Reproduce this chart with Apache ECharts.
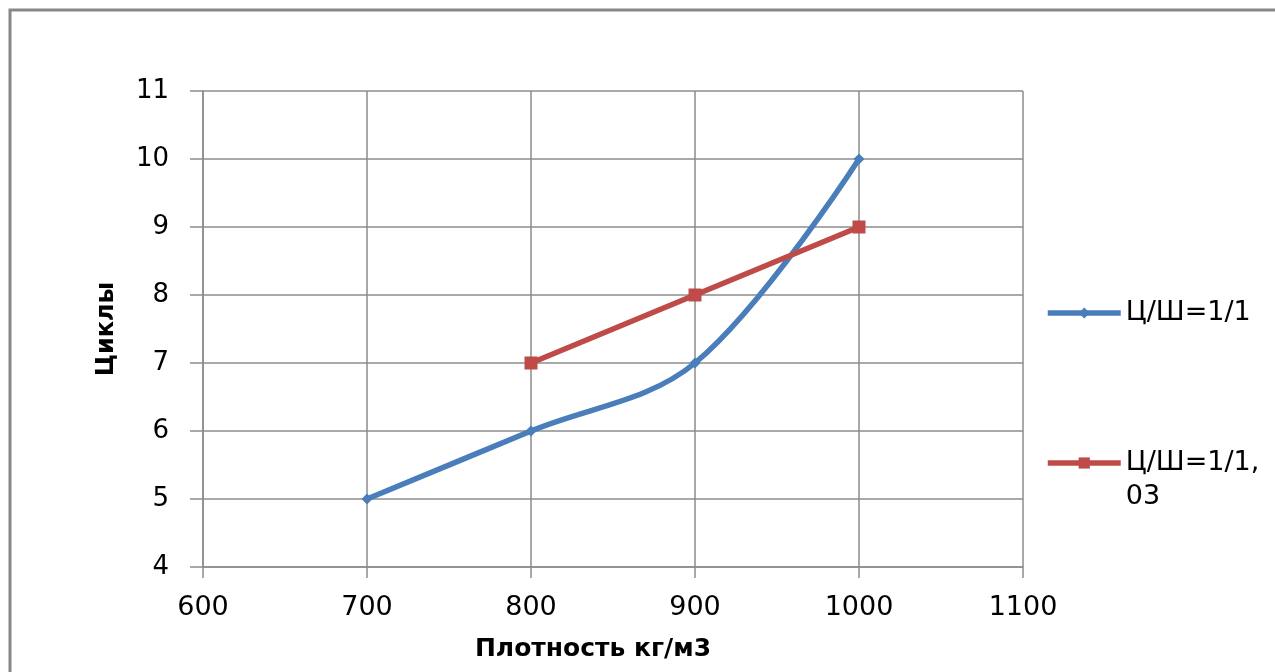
<!DOCTYPE html>
<html>
<head>
<meta charset="utf-8">
<script src="https://cdn.jsdelivr.net/npm/echarts@6/dist/echarts.min.js"></script>
<style>
html,body{margin:0;padding:0;background:#fff;}
#c{width:1275px;height:672px;}
</style>
</head>
<body>
<div id="c"></div>
<script>
const xTicks = [600, 700, 800, 900, 1000, 1100];
const yTicks = [4, 5, 6, 7, 8, 9, 10, 11];
const seriesNames = ['Ц/Ш=1/1', 'Ц/Ш=1/1,03'];
const blueX = [700, 800, 900, 1000];
const blueY = [5, 6, 7, 10];
const redX = [800, 900, 1000];
const redY = [7, 8, 9];

const font = '"DejaVu Sans", sans-serif';
const blue = '#4a7ebb', red = '#be4b48', gridC = '#8c8c8c';
const chart = echarts.init(document.getElementById('c'), null, {renderer: 'canvas'});
const legendCommon = {
  orient: 'vertical',
  left: 1045,
  padding: 0,
  itemWidth: 73,
  itemHeight: 14,
  textStyle: {fontFamily: font, fontSize: 27, color: '#000', lineHeight: 34}
};
chart.setOption({
  animation: false,
  backgroundColor: '#fff',
  graphic: [{
    type: 'rect',
    shape: {x: 10, y: 10, width: 1300, height: 700},
    style: {fill: 'none', stroke: '#878787', lineWidth: 3},
    silent: true
  }],
  grid: {left: 203, right: 252, top: 91, bottom: 105, containLabel: false},
  xAxis: {
    type: 'value',
    min: xTicks[0], max: xTicks[xTicks.length - 1], interval: 100,
    name: 'Плотность кг/м3',
    nameLocation: 'middle',
    nameGap: 70,
    nameTextStyle: {fontFamily: font, fontWeight: 'bold', fontSize: 25, color: '#000', padding: [0, 40, 0, 0]},
    axisLine: {show: true, lineStyle: {color: gridC, width: 1.5}},
    axisTick: {show: true, inside: false, length: 11, lineStyle: {color: gridC, width: 1.5}},
    axisLabel: {fontFamily: font, fontSize: 27, color: '#000', margin: 27, formatter: v => String(v)},
    splitLine: {show: true, lineStyle: {color: gridC, width: 1.5}}
  },
  yAxis: {
    type: 'value',
    min: yTicks[0], max: yTicks[yTicks.length - 1], interval: 1,
    name: 'Циклы',
    nameLocation: 'middle',
    nameGap: 84,
    nameRotate: 90,
    nameTextStyle: {fontFamily: font, fontWeight: 'bold', fontSize: 24, color: '#000'},
    axisLine: {show: true, lineStyle: {color: gridC, width: 1.5}},
    axisTick: {show: true, inside: false, length: 13, lineStyle: {color: gridC, width: 1.5}},
    axisLabel: {fontFamily: font, fontSize: 26, color: '#000', margin: 34},
    splitLine: {show: true, lineStyle: {color: gridC, width: 1.5}}
  },
  legend: [
    Object.assign({}, legendCommon, {
      top: 313 - 17,
      data: [seriesNames[0]],
      lineStyle: {width: 5.5}
    }),
    Object.assign({}, legendCommon, {
      top: 463 - 51,
      data: [seriesNames[1]],
      lineStyle: {width: 5.5},
      formatter: () => ' \nЦ/Ш=1/1,\n03'
    })
  ],
  series: [
    {
      name: seriesNames[0],
      type: 'line',
      smooth: 0.35,
      data: blueX.map((x, i) => [x, blueY[i]]),
      symbol: 'diamond',
      symbolSize: 11,
      lineStyle: {color: blue, width: 5.5},
      itemStyle: {color: blue}
    },
    {
      name: seriesNames[1],
      type: 'line',
      data: redX.map((x, i) => [x, redY[i]]),
      symbol: 'rect',
      symbolSize: 13,
      lineStyle: {color: red, width: 5.5},
      itemStyle: {color: red}
    }
  ]
});
</script>
</body>
</html>
